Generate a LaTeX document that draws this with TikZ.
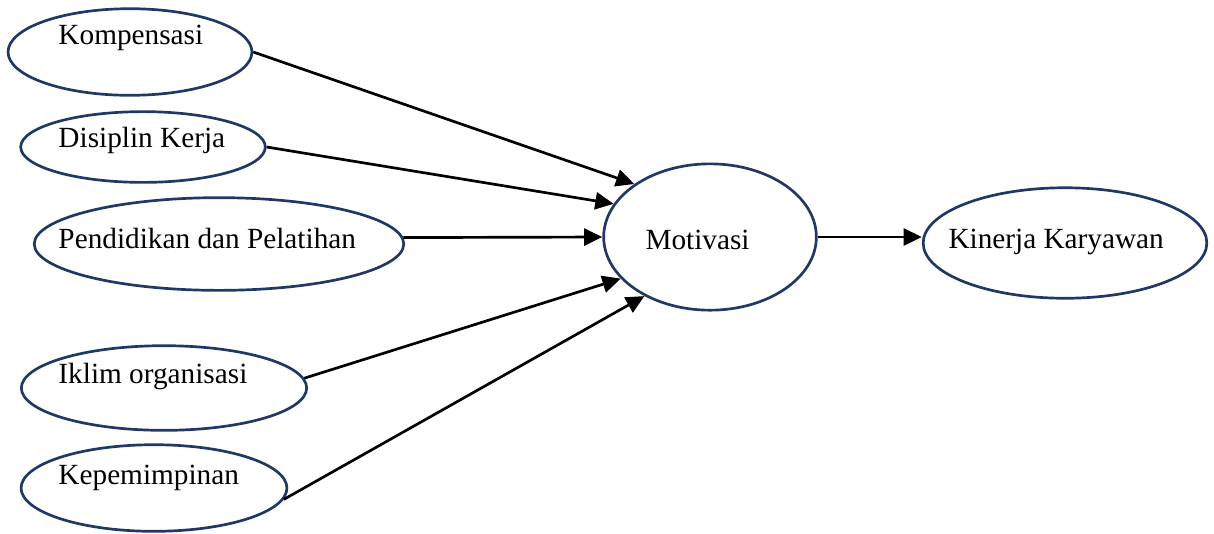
\documentclass[tikz,border=0pt]{standalone}
\usepackage{fontspec}
\setmainfont{Liberation Serif}
\usetikzlibrary{arrows.meta, shapes.geometric}
\definecolor{navyline}{RGB}{31,56,100}
\tikzstyle{factor} = [ellipse, draw=navyline, line width=1.1pt, inner sep=0pt]
\tikzstyle{factortext} = [anchor=base west, inner sep=0pt]
\tikzstyle{arrow} = [line width=1.1pt, -{Triangle[length=7.5pt, width=7pt]}]
\tikzset{
  font={\fontsize{12pt}{14}\selectfont}}

\begin{document}
\begin{tikzpicture}[x=0.41pt, y=-0.41pt]
    \useasboundingbox (0,0) rectangle (1214,533);

    \node (komp) [factor, minimum width=100pt, minimum height=35.5pt] at (130,52) {};
    \node (disiplin) [factor, minimum width=100.3pt, minimum height=29pt] at (143,147) {};
    \node (pend) [factor, minimum width=151.5pt, minimum height=38pt] at (219,244) {};
    \node (iklim) [factor, minimum width=117pt, minimum height=34.7pt] at (164,388) {};
    \node (kep) [factor, minimum width=109pt, minimum height=35.5pt] at (154,488) {};
    \node (motivasi) [factor, minimum width=87.2pt, minimum height=60pt] at (710,237) {};
    \node (kinerja) [factor, minimum width=116.3pt, minimum height=45.3pt] at (1065,243) {};

    \node (kompText) [factortext] at (58,44) {Kompensasi};
    \node (disiplinText) [factortext] at (58,147) {Disiplin Kerja};
    \node (pendText) [factortext] at (58,248) {Pendidikan dan Pelatihan};
    \node (iklimText) [factortext] at (58,383) {Iklim organisasi};
    \node (kepText) [factortext] at (58,484) {Kepemimpinan};
    \node (motivasiText) [factortext] at (645,249) {Motivasi};
    \node (kinerjaText) [factortext] at (948,248) {Kinerja Karyawan};

    \draw [arrow] (komp.east) -- (motivasi.145);
    \draw [arrow] (disiplin.east) -- (motivasi.161);
    \draw [arrow] (pend.2) -- (motivasi.west);
    \draw [arrow] (iklim.4) -- (motivasi.205);
    \draw [arrow] (kep.-5) -- (motivasi.222);
    \draw [arrow] (motivasi.east) -- (motivasi.east -| kinerja.west);
\end{tikzpicture}
\end{document}
